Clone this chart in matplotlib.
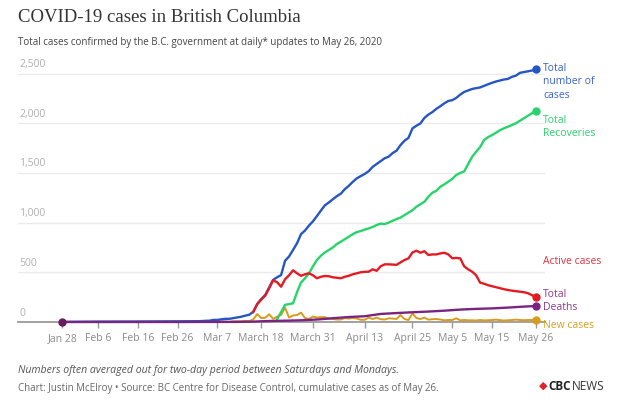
import matplotlib
matplotlib.use('Agg')
import matplotlib.pyplot as plt
import numpy as np
import pandas as pd

# daily dates from Mar 1 to May 26
daily = pd.date_range('2020-03-01', '2020-05-26')

# early (flat) part before March
early_dates = pd.to_datetime(['2020-01-28', '2020-02-06', '2020-02-16', '2020-02-26'])
early_cases = [1, 4, 5, 7]

total_cases = [
    8, 8, 9, 12, 13, 21, 21, 27, 32, 32, 39, 46, 53, 64, 73, 103, 180, 231, 271, 348,
    424, 450, 472, 617, 659, 725, 792, 884, 920, 970, 1013,
    1066, 1121, 1174, 1203, 1235, 1266, 1291, 1336, 1370, 1410, 1445, 1468, 1490, 1517, 1561,
    1590, 1618, 1647, 1663, 1699, 1724, 1780, 1824, 1853, 1948, 1975, 1998, 2053, 2087, 2112,
    2145, 2171, 2200, 2224, 2232, 2255, 2288, 2315, 2330, 2345, 2353, 2360, 2376, 2392, 2407,
    2420, 2430, 2440, 2446, 2467, 2479, 2507, 2515, 2522, 2530, 2541,
]

recov_dates = pd.date_range('2020-03-22', '2020-05-26')
recoveries = [
    30, 100, 173, 180, 188, 300, 396, 440, 490, 560,
    624, 667, 700, 725, 750, 785, 808, 833, 858, 883, 905, 915, 930, 942, 956, 976, 990, 985,
    1000, 1018, 1036, 1050, 1076, 1100, 1125, 1160, 1185, 1210, 1260, 1301,
    1320, 1361, 1385, 1412, 1440, 1479, 1500, 1515, 1590, 1663, 1713, 1760, 1831, 1860, 1881,
    1905, 1930, 1949, 1965, 1982, 2000, 2025, 2050, 2075, 2100, 2126,
]

active_dates = pd.date_range('2020-03-16', '2020-05-26')
active = [
    100, 180, 225, 265, 340, 420, 400, 355, 430, 470, 520, 490, 465, 480, 490, 470,
    440, 455, 463, 460, 450, 445, 440, 455, 465, 480, 490, 500, 505, 506, 530, 515, 560, 580,
    580, 578, 575, 600, 624, 640, 700, 717, 697, 712, 674, 680,
    680, 690, 697, 680, 641, 645, 640, 560, 530, 506, 470, 396, 385, 370, 360, 350, 340, 330,
    322, 315, 310, 305, 300, 290, 270, 255,
]

death_dates = pd.to_datetime([
    '2020-01-28', '2020-02-26', '2020-03-08', '2020-03-12', '2020-03-16', '2020-03-20',
    '2020-03-24', '2020-03-28', '2020-04-01', '2020-04-05', '2020-04-09', '2020-04-13',
    '2020-04-17', '2020-04-21', '2020-04-25', '2020-04-29', '2020-05-03', '2020-05-07',
    '2020-05-11', '2020-05-15', '2020-05-19', '2020-05-23', '2020-05-26',
])
deaths = [0, 0, 1, 1, 4, 10, 13, 17, 25, 38, 50, 58, 81, 90, 98, 105, 114, 125, 132, 137, 145, 155, 161]

new_dates = pd.date_range('2020-03-05', '2020-05-26')
new_cases = [
    1, 8, 0, 6, 5, 0, 7, 7, 7, 11, 9, 25, 80, 40, 42, 77, 32, 54, 70, 144, 45, 66, 70, 94,
    40, 30, 55,
    45, 50, 48, 35, 30, 25, 25, 40, 34, 40, 35, 22, 22, 44, 30, 44, 28, 25, 37, 35, 30, 70,
    30, 20, 87, 40, 30, 44, 24, 28,
    30, 25, 17, 20, 20, 37, 17, 20, 17, 17, 15, 20, 16, 18, 20, 24, 18, 15, 17, 20, 24, 20,
    18, 20, 20, 20,
]

tick_dates = pd.to_datetime(['2020-01-28', '2020-02-06', '2020-02-16', '2020-02-26', '2020-03-07',
                             '2020-03-18', '2020-03-31', '2020-04-13', '2020-04-25', '2020-05-05',
                             '2020-05-15', '2020-05-26'])
tick_labels = ['Jan 28', 'Feb 6', 'Feb 16', 'Feb 26', 'Mar 7', 'March 18', 'March 31',
               'April 13', 'April 25', 'May 5', 'May 15', 'May 26']
y_ticks = [0, 500, 1000, 1500, 2000, 2500]

BLUE = '#2556c4'
GREEN = '#27d46a'
RED = '#e31b23'
PURPLE = '#7a2482'
ORANGE = '#d89b1c'

plt.rcParams['font.family'] = ['Open Sans', 'DejaVu Sans']

fig = plt.figure(figsize=(6.4, 4.0), dpi=100)
ax = fig.add_axes([18 / 640, 1 - 322 / 400, (545 - 18) / 640, (322 - 63.6) / 400])

x0 = pd.Timestamp('2020-01-28') - pd.Timedelta(days=11.1)
x1 = pd.Timestamp('2020-05-26') + pd.Timedelta(days=2.3)
ax.set_xlim(x0, x1)
ax.set_ylim(0, 2600)

for v in y_ticks:
    if v > 0:
        ax.axhline(v, color='#ebebeb', lw=1, zorder=0)
    ax.text(0.002, v + 35, f'{v:,}', transform=ax.get_yaxis_transform(),
            color='#b0b0b0', fontsize=7.5, va='bottom', ha='left')

cases_x = list(early_dates) + list(daily)
cases_y = early_cases + total_cases

ax.plot(new_dates, new_cases, color=ORANGE, lw=1.4, zorder=3, clip_on=False)
ax.plot(recov_dates, recoveries, color=GREEN, lw=1.7, zorder=3)
ax.plot(cases_x, cases_y, color=BLUE, lw=1.7, zorder=4)
ax.plot(active_dates, active, color=RED, lw=1.7, zorder=4)
ax.plot(death_dates, deaths, color=PURPLE, lw=1.7, zorder=5, clip_on=False)

# end markers
ax.plot(daily[-1], total_cases[-1], 'o', color=BLUE, ms=5, zorder=6, clip_on=False)
ax.plot(recov_dates[-1], recoveries[-1], 'o', color=GREEN, ms=5, zorder=6, clip_on=False)
ax.plot(active_dates[-1], active[-1], 'o', color=RED, ms=5, zorder=6, clip_on=False)
ax.plot(death_dates[-1], deaths[-1], 'o', color=PURPLE, ms=5, zorder=6, clip_on=False)
ax.plot(new_dates[-1], new_cases[-1], 'o', color=ORANGE, ms=5, zorder=6, clip_on=False)
ax.plot(death_dates[0], deaths[0], 'o', color='#6a1a5e', ms=5, zorder=7, clip_on=False)

for s in ['top', 'right', 'left']:
    ax.spines[s].set_visible(False)
ax.spines['bottom'].set_color('#9a9a9a')
ax.spines['bottom'].set_linewidth(1.3)
ax.set_yticks([])
ax.set_xticks(tick_dates)
ax.set_xticklabels(tick_labels)
ax.tick_params(axis='x', length=4, width=1, color='#9a9a9a', labelcolor='#8a8a8a',
               labelsize=7.5, pad=4)

# series labels on the right
def side(y, txt, color):
    fig.text(543 / 640, 1 - y / 400, txt, color=color, fontsize=7.5, va='center', ha='left',
             linespacing=1.35)

side(82, 'Total\nnumber of\ncases', '#3a63c4')
side(127, 'Total\nRecoveries', '#2bcf6e')
side(261, 'Active cases', '#e2323c')
side(301, 'Total\nDeaths', '#8a3a90')
side(325, 'New cases', '#d9a01e')

fig.text(18 / 640, 1 - 17 / 400, 'COVID-19 cases in British Columbia', family='Liberation Serif',
         fontsize=13.5, color='#333333', va='center', ha='left')
fig.text(18 / 640, 1 - 43 / 400,
         'Total cases confirmed by the B.C. government at daily* updates to May 26, 2020',
         fontsize=7, color='#444444', va='center', ha='left')
fig.text(18 / 640, 1 - 370 / 400,
         'Numbers often averaged out for two-day period between Saturdays and Mondays.',
         fontsize=7.6, style='italic', color='#555555', va='center', ha='left')
fig.text(18 / 640, 1 - 388 / 400,
         'Chart: Justin McElroy \u2022 Source: BC Centre for Disease Control, cumulative cases as of May 26.',
         fontsize=7, color='#666666', va='center', ha='left')

fig.text(543 / 640, 1 - 386 / 400, '\u25c6', color='#e0202a', fontsize=8, va='center', ha='center')
fig.text(548 / 640, 1 - 386 / 400, 'CBC', fontsize=8.5, weight='bold', color='#222222',
         va='center', ha='left')
fig.text(572 / 640, 1 - 386 / 400, 'NEWS', fontsize=8.5, color='#333333', va='center', ha='left')

fig.savefig('out.png', dpi=100, facecolor='white')
